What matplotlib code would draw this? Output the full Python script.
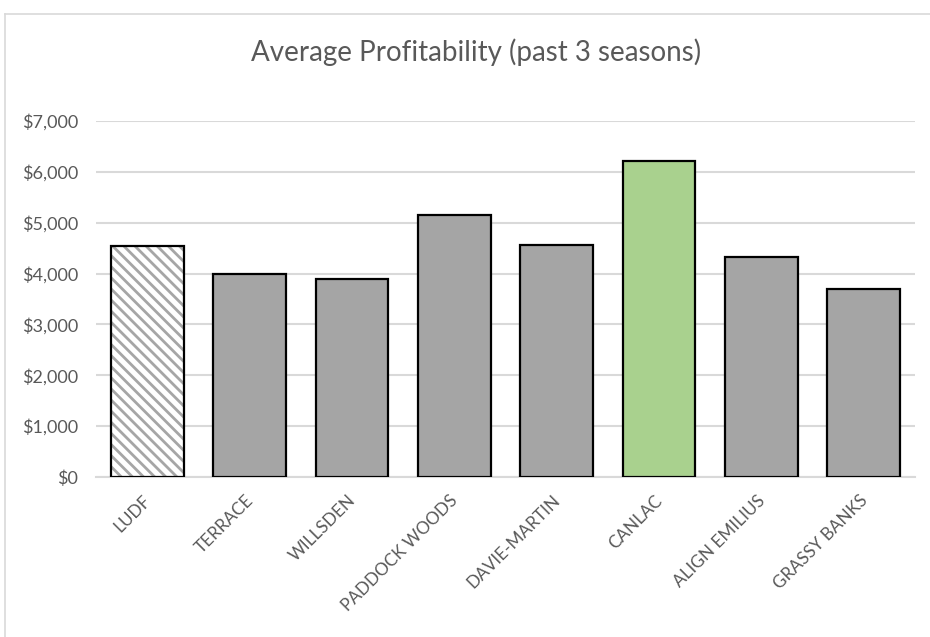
import matplotlib
matplotlib.use("Agg")
import matplotlib.pyplot as plt
from matplotlib.lines import Line2D
from matplotlib.ticker import FuncFormatter, MultipleLocator
import matplotlib.transforms as mtransforms

categories = ["LUDF", "TERRACE", "WILLSDEN", "PADDOCK WOODS", "DAVIE-MARTIN",
              "CANLAC", "ALIGN EMILIUS", "GRASSY BANKS"]
values = [4540, 3995, 3900, 5150, 4560, 6210, 4330, 3700]
title = "Average Profitability (past 3 seasons)"

plt.rcParams['font.family'] = ['Lato', 'DejaVu Sans']
plt.rcParams['hatch.linewidth'] = 2.0

text_color = "#595959"
grid_color = "#d9d9d9"

fig = plt.figure(figsize=(9.30, 6.37), dpi=100)
ax = fig.add_axes([96/930, 1 - 477/637, (915-96)/930, (477-121)/637])

x = list(range(len(categories)))
colors = ["white", "#a5a5a5", "#a5a5a5", "#a5a5a5", "#a5a5a5", "#a9d18e", "#a5a5a5", "#a5a5a5"]
hatches = ["\\\\\\", None, None, None, None, None, None, None]
width = 0.71

# fills (with hatch for first)
for xi, v, c, h in zip(x, values, colors, hatches):
    if h:
        ax.bar(xi, v, width=width, color=c, hatch=h, edgecolor="#a6a6a6", linewidth=0, zorder=2)
    else:
        ax.bar(xi, v, width=width, color=c, linewidth=0, zorder=2)
# outlines
ax.bar(x, values, width=width, fill=False, edgecolor="black", linewidth=1.6, zorder=3)

ax.set_xlim(-0.5, len(categories) - 0.5)
ax.set_ylim(0, 7000)
ax.yaxis.set_major_locator(MultipleLocator(1000))
ax.yaxis.set_major_formatter(FuncFormatter(lambda v, p: f"${v:,.0f}"))
ax.grid(axis="y", color=grid_color, linewidth=1.5, zorder=0)
ax.set_axisbelow(True)
for s in ["top", "right", "left"]:
    ax.spines[s].set_visible(False)
ax.spines["bottom"].set_color(grid_color)
ax.spines["bottom"].set_linewidth(1.5)
ax.tick_params(axis="both", length=0, colors=text_color)
ax.tick_params(axis="y", pad=13, labelsize=13)

ax.set_xticks(x)
ax.set_xticklabels(categories, rotation=45, ha="right", va="center",
                   rotation_mode="anchor")
ax.tick_params(axis="x", pad=15, labelsize=12.3)
offset = mtransforms.ScaledTranslation(1/100, 0, fig.dpi_scale_trans)
for lab in ax.get_xticklabels():
    lab.set_transform(lab.get_transform() + offset)

fig.text(476/930, 1 - 52/637, title, ha="center", va="center",
         fontsize=20, color=text_color)

# chart border (left and top)
fig.add_artist(Line2D([5/930, 5/930], [0, 1 - 14/637], transform=fig.transFigure,
                      color=grid_color, linewidth=1.2))
fig.add_artist(Line2D([5/930, 1], [1 - 14/637, 1 - 14/637], transform=fig.transFigure,
                      color=grid_color, linewidth=1.2))

fig.savefig("out.png", dpi=100, facecolor="white")
